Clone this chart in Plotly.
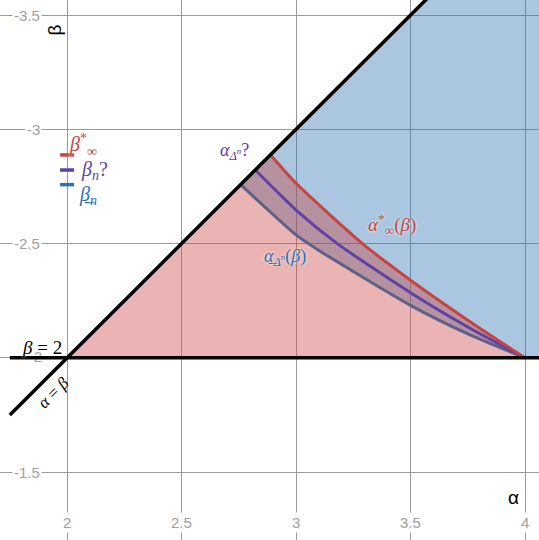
import plotly.graph_objects as go

# ---------------------------------------- Data ---------------------------------------- #

# alpha*_inf(beta) curve (red)
red_alpha = [2.889, 3.0, 3.29, 3.5, 3.75, 4.0]
red_beta = [2.888, 2.764, 2.5, 2.34, 2.165, 2.0]

# alpha_{Delta^n}? curve (purple)
purple_alpha = [2.822, 3.0, 3.18, 3.5, 3.75, 4.0]
purple_beta = [2.822, 2.647, 2.5, 2.285, 2.135, 2.0]

# lower alpha_{Delta^n}(beta) curve (dark)
lower_alpha = [2.758, 3.0, 3.1, 3.5, 3.75, 4.0]
lower_beta = [2.758, 2.538, 2.47, 2.23, 2.105, 2.0]

# marks on the beta axis
beta_marks = [2.888, 2.822, 2.758]

x_ticks = [2, 2.5, 3, 3.5, 4]
x_tick_text = ["2", "2.5", "3", "3.5", "4"]
y_ticks = [3.5, 3, 2.5, 1.5]
y_tick_text = ["-3.5", "-3", "-2.5", "-1.5"]

RED = "#c74440"
BLUE = "#2d70b3"
PURPLE = "#6042a6"
DARK = "#5f6088"
SERIF = "Liberation Serif"

# -------------------------------------------------------------------------------------- #

fig = go.Figure()

# "-2" tick label sits under the black line
fig.add_trace(go.Scatter(
    x=[1.891], y=[2.0], mode="text", text=["-2"],
    textposition="middle left",
    textfont=dict(family="Arial", size=15, color="#a0a0a0"),
    hoverinfo="skip"))

# blue region
top = 3.8
blue_x = lower_alpha + [4.3, 4.3, top, lower_alpha[0]]
blue_y = lower_beta + [2.0, top, top, lower_beta[0]]
fig.add_trace(go.Scatter(
    x=blue_x, y=blue_y, mode="lines", fill="toself",
    fillcolor="rgba(45,112,179,0.4)", line=dict(width=0), hoverinfo="skip"))

# pink region
pink_x = [2.0] + red_alpha + [2.0]
pink_y = [2.0] + red_beta + [2.0]
fig.add_trace(go.Scatter(
    x=pink_x, y=pink_y, mode="lines", fill="toself",
    fillcolor="rgba(199,68,64,0.4)", line=dict(width=0), hoverinfo="skip"))

# curves
for ax_, by_, col in [(lower_alpha, lower_beta, DARK),
                      (purple_alpha, purple_beta, PURPLE),
                      (red_alpha, red_beta, RED)]:
    fig.add_trace(go.Scatter(
        x=ax_, y=by_, mode="lines",
        line=dict(color=col, width=3, shape="spline", smoothing=0.6),
        hoverinfo="skip"))

# alpha = beta and beta = 2
fig.add_trace(go.Scatter(x=[1.75, top], y=[1.75, top], mode="lines",
                         line=dict(color="black", width=3.5), hoverinfo="skip"))
fig.add_trace(go.Scatter(x=[1.75, 4.3], y=[2.0, 2.0], mode="lines",
                         line=dict(color="black", width=3.5), hoverinfo="skip"))

# marks on the beta axis
fig.add_trace(go.Scatter(
    x=[2, 2, 2], y=beta_marks, mode="markers",
    marker=dict(symbol="line-ew", size=10,
                line=dict(width=3.5, color=[RED, PURPLE, BLUE])),
    hoverinfo="skip"))

# tick labels
for v, t in zip(x_ticks, x_tick_text):
    fig.add_annotation(x=v, y=1.279, text=t, showarrow=False, bgcolor="white",
                       borderpad=1, font=dict(family="Arial", size=15, color="#a0a0a0"))
for v, t in zip(y_ticks, y_tick_text):
    fig.add_annotation(x=1.891, y=v, text=t, showarrow=False, bgcolor="white",
                       xanchor="right", borderpad=1,
                       font=dict(family="Arial", size=15, color="#a0a0a0"))

# axis names
fig.add_annotation(x=3.95, y=1.39, text="α", showarrow=False,
                   font=dict(family="Arial", size=19, color="black"))
fig.add_annotation(x=1.945, y=3.435, text="β", showarrow=False, textangle=-90,
                   font=dict(family="Arial", size=19, color="black"))

# math labels
halo = "0px 0px 3px white"
labels = [
    (2.07, 2.93, "<i>β</i><sup>*</sup><sub>∞</sub>", RED, 20),
    (2.12, 2.818, "<i>β<sub>n</sub></i>?", PURPLE, 20),
    (2.09, 2.71, "<i>β̲<sub>n</sub></i>", BLUE, 20),
    (2.73, 2.905, "<i>α</i><sub><i>Δ<sup>n</sup></i></sub>?", PURPLE, 18),
    (3.42, 2.585, "<i>α</i><sup>*</sup><sub>∞</sub>(<i>β</i>)", RED, 19),
    (2.95, 2.44, "<i>α̲</i><sub><i>Δ<sup>n</sup></i></sub>(<i>β</i>)", BLUE, 18),
]
for lx, ly, txt, col, sz in labels:
    fig.add_annotation(x=lx, y=ly, text=txt, showarrow=False,
                       font=dict(family=SERIF, size=sz, color=col, shadow=halo))

fig.add_annotation(x=1.89, y=2.045, text="<i>β</i> = 2", showarrow=False,
                   font=dict(family=SERIF, size=19, color="black", shadow=halo))
fig.add_annotation(x=1.94, y=1.85, text="<i>α</i> = <i>β</i>", showarrow=False,
                   textangle=-45,
                   font=dict(family=SERIF, size=17, color="black", shadow=halo))

fig.update_xaxes(range=[1.707, 4.061], tickvals=x_ticks, showticklabels=False,
                 showgrid=True, gridcolor="#9a9a9a", gridwidth=1, zeroline=False,
                 showline=False)
fig.update_yaxes(range=[1.203, 3.566], tickvals=[1.5, 2, 2.5, 3, 3.5],
                 showticklabels=False, showgrid=True, gridcolor="#9a9a9a",
                 gridwidth=1, zeroline=False, showline=False)

fig.update_layout(width=539, height=540, margin=dict(l=0, r=0, t=0, b=0),
                  paper_bgcolor="white", plot_bgcolor="white", showlegend=False)

# page body has a default 8px margin; drop it so the chart fills the window
fig.write_html("out.html", config={"displayModeBar": False},
               post_script="document.body.style.margin = '0';")
